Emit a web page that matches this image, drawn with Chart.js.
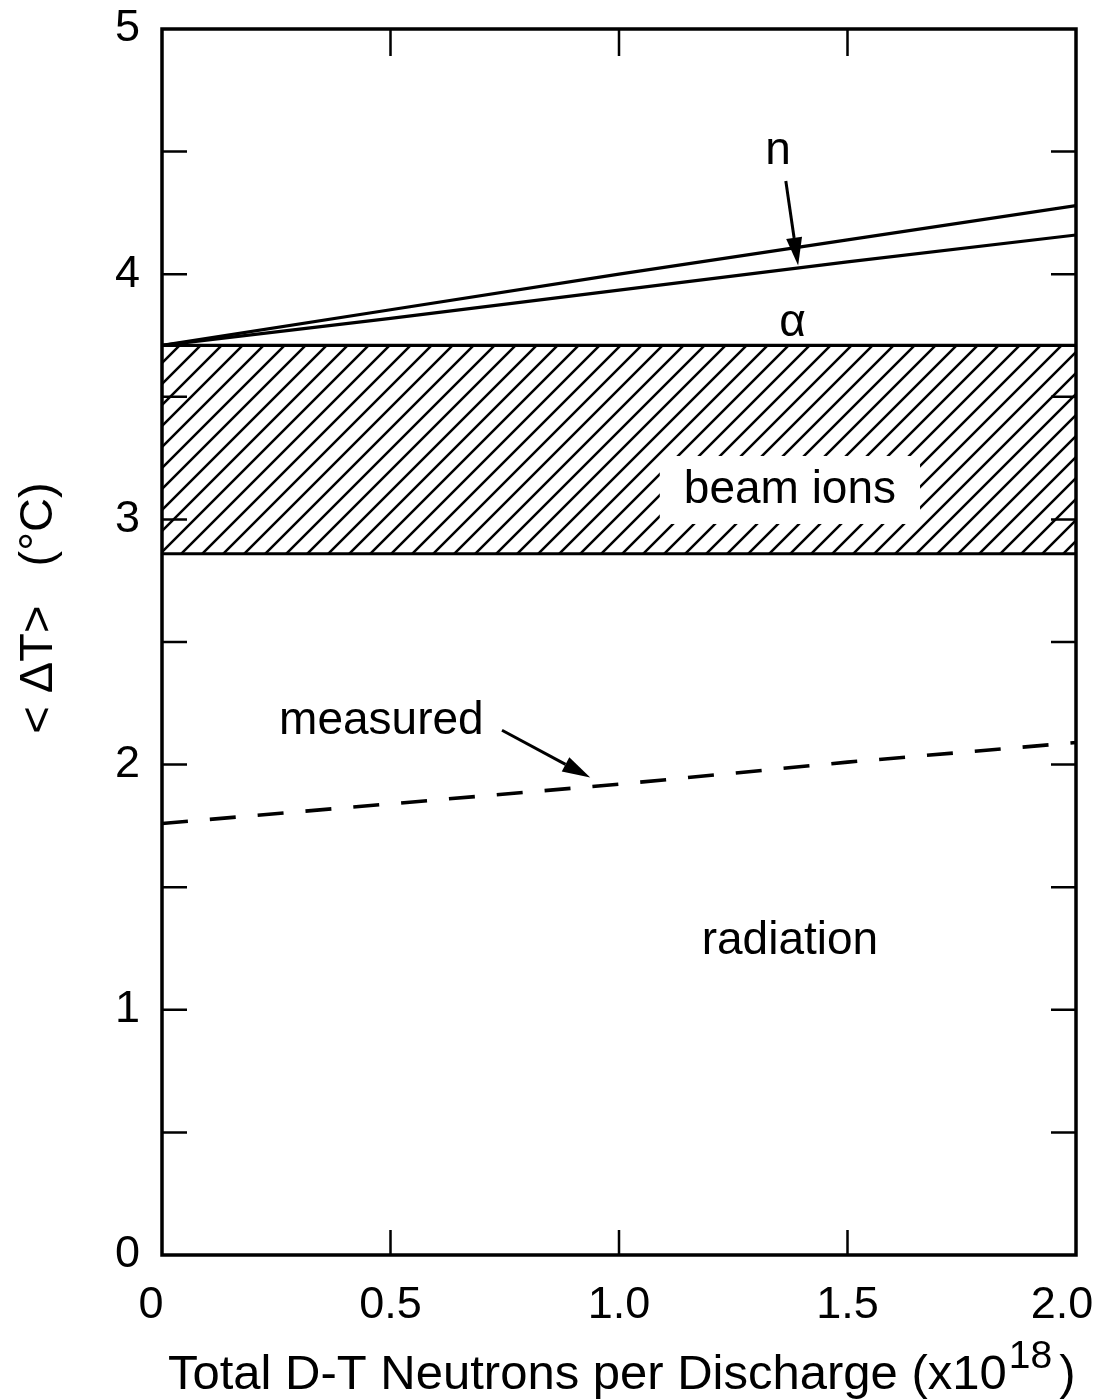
<!DOCTYPE html>
<html>
<head>
<meta charset="utf-8">
<script src="https://cdn.jsdelivr.net/npm/chart.js@4.4.1/dist/chart.umd.min.js"></script>
<style>
  html, body { margin: 0; padding: 0; background: #ffffff; }
  #wrap { width: 1103px; height: 1400px; }
</style>
</head>
<body>
<div id="wrap"><canvas id="c" width="1103" height="1400"></canvas></div>
<script>
// ---- data ----
const xValues      = [0, 0.5, 1.0, 1.5, 2.0];
const totalN       = [3.71, 3.855, 4.0, 4.14, 4.28];   // upper line (n)
const alphaLine    = [3.71, 3.82, 3.935, 4.05, 4.16];  // lower line (alpha)
const beamTop      = [3.71, 3.71, 3.71, 3.71, 3.71];
const beamBottom   = [2.86, 2.86, 2.86, 2.86, 2.86];
const measured     = [1.76, 1.84, 1.92, 2.01, 2.09];
const xTickValues  = [0, 0.5, 1.0, 1.5, 2.0];
const xTickLabels  = ['0', '0.5', '1.0', '1.5', '2.0'];
const yTickLabels  = ['0', '1', '2', '3', '4', '5'];

const FONT = '"Liberation Sans", Arial, Helvetica, sans-serif';

function pts(ys) { return xValues.map((x, i) => ({ x: x, y: ys[i] })); }

// hatch pattern
function makeHatch() {
  const s = 21;
  const c = document.createElement('canvas');
  c.width = s; c.height = s;
  const g = c.getContext('2d');
  g.strokeStyle = '#000';
  g.lineWidth = 2.5;
  g.beginPath();
  g.moveTo(-3, s + 3); g.lineTo(s + 3, -3);
  g.moveTo(-3, 3); g.lineTo(3, -3);
  g.moveTo(s - 3, s + 3); g.lineTo(s + 3, s - 3);
  g.stroke();
  return g.createPattern(c, 'repeat');
}

const labels = [
  { text: 'n',         x: 1.348, y: 4.50 },
  { text: 'α',         x: 1.38,  y: 3.80 },
  { text: 'measured',  x: 0.48,  y: 2.175 },
  { text: 'radiation', x: 1.374, y: 1.28 }
];
const boxedLabel = { text: 'beam ions', x: 1.374, y: 3.12 };
const arrows = [
  { x0: 1.365, y0: 4.38, x1: 1.392, y1: 4.035 },
  { x0: 0.744, y0: 2.14, x1: 0.937, y1: 1.947 }
];
// end labels of the x axis sit slightly inward in the original
const xEdgeLabelShift = { first: -11, last: -14 };

const edgeLabels = {
  id: 'edgeLabels',
  beforeDraw(chart) {
    const xs = chart.scales.x;
    const items = xs.getLabelItems(chart.chartArea);
    if (!items || !items.length || items._shifted) return;
    items[0].options.translation[0] += xEdgeLabelShift.first;
    items[items.length - 1].options.translation[0] += xEdgeLabelShift.last;
    items._shifted = true;
  }
};

const decor = {
  id: 'decor',
  afterDatasetsDraw(chart) {
    const ctx = chart.ctx, xs = chart.scales.x, ys = chart.scales.y;
    const a = chart.chartArea;
    ctx.save();
    // boxed label
    ctx.font = '46px ' + FONT;
    ctx.textAlign = 'center';
    ctx.textBaseline = 'middle';
    const bx = xs.getPixelForValue(boxedLabel.x), by = ys.getPixelForValue(boxedLabel.y);
    const w = ctx.measureText(boxedLabel.text).width;
    ctx.fillStyle = '#fff';
    ctx.fillRect(bx - w / 2 - 24, by - 34, w + 48, 68);
    ctx.fillStyle = '#000';
    ctx.fillText(boxedLabel.text, bx, by);
    labels.forEach(l => {
      ctx.fillText(l.text, xs.getPixelForValue(l.x), ys.getPixelForValue(l.y));
    });
    // arrows
    arrows.forEach(ar => {
      const x0 = xs.getPixelForValue(ar.x0), y0 = ys.getPixelForValue(ar.y0);
      const x1 = xs.getPixelForValue(ar.x1), y1 = ys.getPixelForValue(ar.y1);
      const ang = Math.atan2(y1 - y0, x1 - x0);
      const hl = 28, hw = 8;
      const bxp = x1 - hl * Math.cos(ang), byp = y1 - hl * Math.sin(ang);
      ctx.strokeStyle = '#000';
      ctx.lineWidth = 3;
      ctx.beginPath(); ctx.moveTo(x0, y0); ctx.lineTo(bxp, byp); ctx.stroke();
      ctx.beginPath();
      ctx.moveTo(x1, y1);
      ctx.lineTo(bxp + hw * Math.sin(ang), byp - hw * Math.cos(ang));
      ctx.lineTo(bxp - hw * Math.sin(ang), byp + hw * Math.cos(ang));
      ctx.closePath(); ctx.fillStyle = '#000'; ctx.fill();
    });
    // frame
    ctx.strokeStyle = '#000';
    ctx.lineWidth = 3.5;
    ctx.strokeRect(a.left, a.top, a.right - a.left, a.bottom - a.top);
    // inward ticks
    ctx.lineWidth = 2.5;
    ctx.beginPath();
    for (let v = 0.5; v < 5; v += 0.5) {
      const py = ys.getPixelForValue(v);
      ctx.moveTo(a.left, py); ctx.lineTo(a.left + 25, py);
      ctx.moveTo(a.right, py); ctx.lineTo(a.right - 25, py);
    }
    [0.5, 1.0, 1.5].forEach(v => {
      const px = xs.getPixelForValue(v);
      ctx.moveTo(px, a.top); ctx.lineTo(px, a.top + 27);
      ctx.moveTo(px, a.bottom); ctx.lineTo(px, a.bottom - 25);
    });
    ctx.stroke();
    // x axis title with superscript
    ctx.textAlign = 'left';
    ctx.textBaseline = 'alphabetic';
    ctx.font = '49px ' + FONT;
    const main = 'Total D-T Neutrons per Discharge (x10';
    let tx = 168; const base = 1389;
    ctx.fillText(main, tx, base);
    tx += ctx.measureText(main).width + 2;
    ctx.font = '39px ' + FONT;
    ctx.fillText('18', tx, base - 21);
    tx += ctx.measureText('18').width + 7;
    ctx.font = '49px ' + FONT;
    ctx.fillText(')', tx, base);
    // y axis title
    ctx.save();
    ctx.translate(52, 608);
    ctx.rotate(-Math.PI / 2);
    ctx.textAlign = 'center';
    ctx.textBaseline = 'alphabetic';
    ctx.font = '47px ' + FONT;
    ctx.fillText('< ΔT>   (°C)', 0, 0);
    ctx.restore();
    ctx.restore();
  }
};

const ds = (data, extra) => Object.assign({
  data: data, borderColor: '#000', borderWidth: 3.2, pointRadius: 0,
  tension: 0, fill: false
}, extra || {});

new Chart(document.getElementById('c'), {
  type: 'line',
  data: {
    datasets: [
      ds(pts(beamBottom)),
      ds(pts(beamTop), { fill: '-1', backgroundColor: makeHatch() }),
      ds(pts(alphaLine)),
      ds(pts(totalN)),
      ds(pts(measured), { borderDash: [26, 22], borderWidth: 3.6 })
    ]
  },
  options: {
    responsive: false,
    animation: false,
    devicePixelRatio: 1,
    layout: { padding: { top: 29, right: 27, left: 0, bottom: 0 } },
    plugins: { legend: { display: false }, tooltip: { enabled: false } },
    scales: {
      x: {
        type: 'linear', min: 0, max: 2,
        afterFit: s => { s.height = 145; s.paddingLeft = 0; s.paddingRight = 0; },
        afterBuildTicks: s => { s.ticks = xTickValues.map(v => ({ value: v })); },
        grid: { display: false, drawTicks: false },
        border: { display: false },
        ticks: {
          color: '#000', padding: 24, maxRotation: 0, autoSkip: false,
          font: { family: FONT, size: 45 },
          callback: v => { const i = xTickValues.indexOf(v); return i >= 0 ? xTickLabels[i] : ''; }
        }
      },
      y: {
        type: 'linear', min: 0, max: 5,
        afterFit: s => { s.width = 162; s.paddingTop = 0; s.paddingBottom = 0; },
        afterBuildTicks: s => { s.ticks = yTickLabels.map(t => ({ value: Number(t) })); },
        grid: { display: false, drawTicks: false },
        border: { display: false },
        ticks: {
          color: '#000', padding: 22, autoSkip: false,
          font: { family: FONT, size: 45 },
          callback: v => yTickLabels[Math.round(v)] || ''
        }
      }
    }
  },
  plugins: [edgeLabels, decor]
});
</script>
</body>
</html>
